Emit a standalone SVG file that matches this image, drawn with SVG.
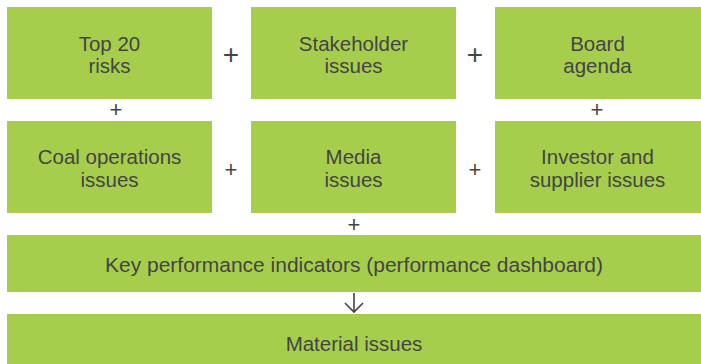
<svg xmlns="http://www.w3.org/2000/svg" width="701" height="364" viewBox="0 0 701 364">
<style>
.box{fill:#A6CE4C}
.t{font-family:"Liberation Sans",Arial,sans-serif;font-size:20.5px;fill:#444;text-anchor:middle}
.p{font-family:"Liberation Sans",Arial,sans-serif;fill:#444;text-anchor:middle}
.c{stroke:#444;stroke-width:1.6;fill:none}
</style>
<rect width="701" height="364" fill="#fff"/>
<g id="top20"><rect class="box" x="7" y="7" width="205" height="92"/><text class="t" x="109.5" y="50.5">Top 20</text><text class="t" x="109.5" y="73">risks</text></g>
<g id="stakeholder"><rect class="box" x="251" y="7" width="205" height="92"/><text class="t" x="353.5" y="50.5">Stakeholder</text><text class="t" x="353.5" y="73">issues</text></g>
<g id="board"><rect class="box" x="495" y="7" width="206" height="92"/><text class="t" x="597.5" y="50.5">Board</text><text class="t" x="597.5" y="73">agenda</text></g>
<g id="coal"><rect class="box" x="7" y="121" width="205" height="92"/><text class="t" x="109.5" y="164">Coal operations</text><text class="t" x="109.5" y="187">issues</text></g>
<g id="media"><rect class="box" x="251" y="121" width="205" height="92"/><text class="t" x="353.5" y="164">Media</text><text class="t" x="353.5" y="187">issues</text></g>
<g id="investor"><rect class="box" x="495" y="121" width="206" height="92"/><text class="t" x="597.5" y="164">Investor and</text><text class="t" x="597.5" y="187">supplier issues</text></g>
<g id="kpi"><rect class="box" x="7" y="235" width="694" height="57"/><text class="t" x="354" y="271.5" textLength="498" lengthAdjust="spacingAndGlyphs">Key performance indicators (performance dashboard)</text></g>
<g id="material"><rect class="box" x="7" y="314" width="694" height="50"/><text class="t" x="354" y="350.5">Material issues</text></g>
<g id="connectors">
<text class="p" x="231" y="64" font-size="28">+</text>
<text class="p" x="475" y="64" font-size="28">+</text>
<text class="p" x="231" y="177" font-size="22">+</text>
<text class="p" x="475" y="177" font-size="22">+</text>
<text class="p" x="116" y="117" font-size="22">+</text>
<text class="p" x="597" y="117" font-size="22">+</text>
<text class="p" x="354" y="232" font-size="22">+</text>
<path class="c" d="M354 293V312M345 303L354 312L363 303"/>
</g>
</svg>
